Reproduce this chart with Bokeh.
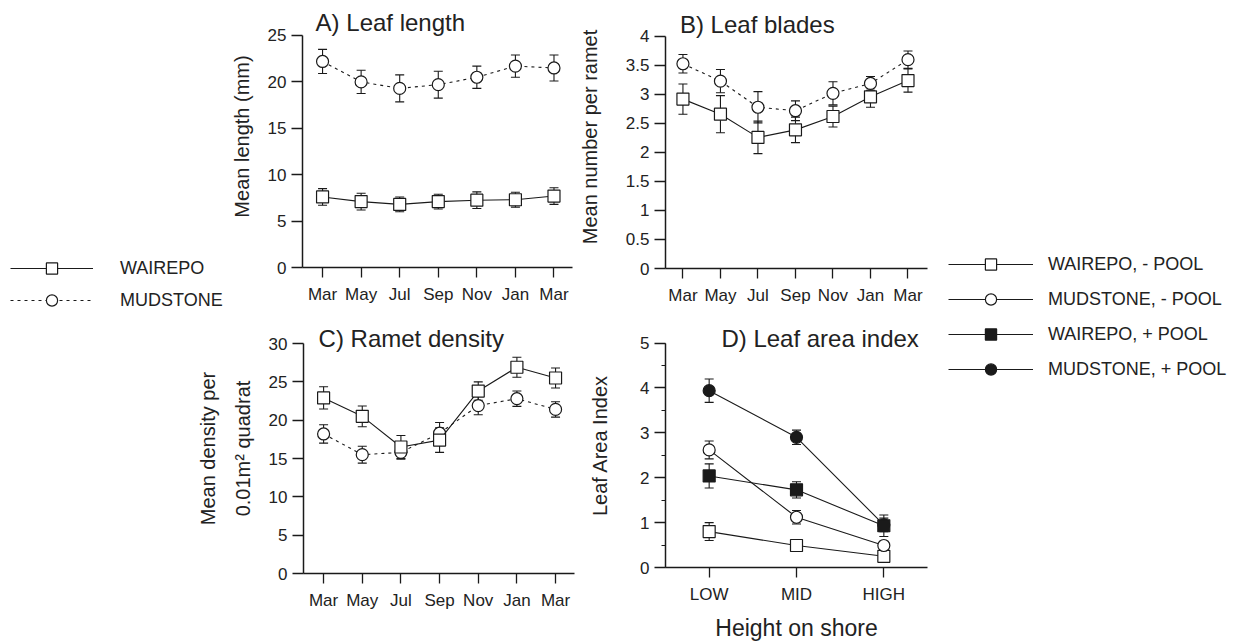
from bokeh.plotting import figure
from bokeh.layouts import row, column
from bokeh.models import (ColumnDataSource, Range1d, FactorRange, FixedTicker, SingleIntervalTicker,
                          NumeralTickFormatter, Whisker, TeeHead, Label, Legend, LegendItem)
from bokeh.embed import file_html
from bokeh.resources import INLINE

# ---------------- data ----------------
months = ["Mar", "May", "Jul", "Sep", "Nov", "Jan", "Mar"]

length_wairepo = [7.6, 7.1, 6.8, 7.1, 7.25, 7.3, 7.7]
length_wairepo_se = [0.9, 0.9, 0.8, 0.8, 0.9, 0.8, 0.9]
length_mudstone = [22.2, 20.0, 19.3, 19.7, 20.5, 21.7, 21.5]
length_mudstone_se = [1.3, 1.25, 1.45, 1.45, 1.2, 1.2, 1.4]

blades_wairepo = [2.92, 2.66, 2.26, 2.39, 2.62, 2.96, 3.24]
blades_wairepo_se = [0.26, 0.32, 0.28, 0.22, 0.18, 0.18, 0.2]
blades_mudstone = [3.53, 3.23, 2.78, 2.72, 3.02, 3.19, 3.6]
blades_mudstone_se = [0.16, 0.2, 0.27, 0.17, 0.2, 0.12, 0.15]

density_wairepo = [22.9, 20.5, 16.5, 17.4, 23.8, 26.9, 25.5]
density_wairepo_se = [1.45, 1.35, 1.5, 1.6, 1.2, 1.3, 1.3]
density_mudstone = [18.2, 15.5, 15.8, 18.3, 21.9, 22.8, 21.4]
density_mudstone_se = [1.2, 1.1, 0.9, 1.4, 1.2, 1.0, 1.0]

shores = ["LOW", "MID", "HIGH"]
lai_wairepo_nopool = [0.8, 0.49, 0.25]
lai_wairepo_nopool_se = [0.2, 0.05, 0.08]
lai_mudstone_nopool = [2.62, 1.12, 0.49]
lai_mudstone_nopool_se = [0.2, 0.15, 0.06]
lai_wairepo_pool = [2.04, 1.73, 0.93]
lai_wairepo_pool_se = [0.27, 0.18, 0.24]
lai_mudstone_pool = [3.94, 2.9, 0.95]
lai_mudstone_pool_se = [0.26, 0.16, 0.15]

FONT = "Liberation Sans"
INK = "#1a1a1a"
TXT = "#222222"


def make_panel(width, height, left, right, top, bottom, x_range, y_range):
    p = figure(width=width, height=height, x_range=x_range, y_range=y_range,
               output_backend="svg", toolbar_location=None,
               min_border_left=left, min_border_right=right,
               min_border_top=top, min_border_bottom=bottom)
    p.grid.visible = False
    p.outline_line_color = None
    for ax in (p.xaxis[0], p.yaxis[0]):
        ax.axis_line_color = INK
        ax.axis_line_width = 1.5
        ax.major_tick_line_color = INK
        ax.major_tick_line_width = 1.3
        ax.major_tick_in = 0
        ax.minor_tick_in = 0
        ax.minor_tick_out = 0
        ax.major_label_text_font = FONT
        ax.major_label_text_font_size = "17px"
        ax.major_label_text_color = TXT
        ax.axis_label_text_font = FONT
        ax.axis_label_text_font_size = "20px"
        ax.axis_label_text_font_style = "normal"
        ax.axis_label_text_color = TXT
    p.xaxis.major_tick_out = 10
    p.xaxis.major_label_standoff = 7
    p.yaxis.major_tick_out = 11
    p.yaxis.major_label_standoff = 5
    return p


def add_series(p, xs, ys, se, marker, fill, dash):
    src = ColumnDataSource(dict(x=xs, y=ys,
                                upper=[a + b for a, b in zip(ys, se)],
                                lower=[a - b for a, b in zip(ys, se)]))
    w = Whisker(base="x", upper="upper", lower="lower", source=src, level="underlay",
                line_color=INK, line_width=1.1,
                upper_head=TeeHead(size=9, line_color=INK, line_width=1.1),
                lower_head=TeeHead(size=9, line_color=INK, line_width=1.1))
    p.add_layout(w)
    p.line("x", "y", source=src, line_color=INK, line_width=1.1, line_dash=dash)
    p.scatter("x", "y", source=src, marker=marker, size=12, fill_color=fill,
              line_color=INK, line_width=1.2)


def month_axis(p):
    ticks = list(range(len(months)))
    p.xaxis.ticker = FixedTicker(ticks=ticks)
    p.xaxis.major_label_overrides = {i: m for i, m in zip(ticks, months)}


def title(p, x, y, text):
    p.add_layout(Label(x=x, y=y, text=text, text_font=FONT, text_font_size="24px",
                       text_color=TXT, text_align="left", text_baseline="middle"))


idx = list(range(len(months)))

# ---------------- Panel A ----------------
pA = make_panel(350, 320, 77, 3, 5, 53, Range1d(-0.52, 6.48), Range1d(0, 28.23))
month_axis(pA)
pA.yaxis.ticker = SingleIntervalTicker(interval=5, num_minor_ticks=0)
pA.yaxis.bounds = (0, 25)
pA.yaxis.axis_label = "Mean length (mm)"
pA.yaxis.axis_label_standoff = 12
add_series(pA, idx, length_wairepo, length_wairepo_se, "square", "white", "solid")
add_series(pA, idx, length_mudstone, length_mudstone_se, "circle", "white", "3 4")
title(pA, -0.18, 26.4, "A) Leaf length")

# ---------------- Panel B ----------------
pB = make_panel(360, 320, 82, 8, 5, 52, Range1d(-0.465, 6.52), Range1d(0, 4.534))
month_axis(pB)
pB.yaxis.ticker = SingleIntervalTicker(interval=0.5, num_minor_ticks=0)
pB.yaxis.bounds = (0, 4)
pB.yaxis.formatter = NumeralTickFormatter(format="0.[0]")
pB.yaxis.axis_label = "Mean number per ramet"
pB.yaxis.axis_label_standoff = 22
add_series(pB, idx, blades_wairepo, blades_wairepo_se, "square", "white", "solid")
add_series(pB, idx, blades_mudstone, blades_mudstone_se, "circle", "white", "3 4")
title(pB, -0.08, 4.21, "B) Leaf blades")

# ---------------- Panel C ----------------
pC = make_panel(575, 323, 303, 1, 3, 70, Range1d(-0.52, 6.49), Range1d(0, 32.61))
month_axis(pC)
pC.yaxis.ticker = SingleIntervalTicker(interval=5, num_minor_ticks=0)
pC.yaxis.bounds = (0, 30)
pC.yaxis.axis_label = "Mean density per\n0.01m\u00b2 quadrat"
pC.yaxis.axis_label_text_line_height = 1.55
pC.yaxis.axis_label_standoff = 12
add_series(pC, idx, density_mudstone, density_mudstone_se, "circle", "white", "3 4")
add_series(pC, idx, density_wairepo, density_wairepo_se, "square", "white", "solid")
title(pC, -0.13, 30.65, "C) Ramet density")

# ---------------- Panel D ----------------
pD = make_panel(360, 323, 85, 5, 3, 71, FactorRange(factors=shores), Range1d(0, 5.437))
pD.yaxis.ticker = SingleIntervalTicker(interval=1, num_minor_ticks=2)
pD.yaxis.bounds = (0, 5)
pD.yaxis.minor_tick_out = 4
pD.yaxis.minor_tick_line_color = INK
pD.yaxis.axis_label = "Leaf Area Index"
pD.yaxis.axis_label_standoff = 26
pD.xaxis.axis_label = "Height on shore"
pD.xaxis.axis_label_text_font_size = "23px"
pD.xaxis.axis_label_standoff = 8
add_series(pD, shores, lai_wairepo_nopool, lai_wairepo_nopool_se, "square", "white", "solid")
add_series(pD, shores, lai_mudstone_nopool, lai_mudstone_nopool_se, "circle", "white", "solid")
add_series(pD, shores, lai_mudstone_pool, lai_mudstone_pool_se, "circle", INK, "solid")
add_series(pD, shores, lai_wairepo_pool, lai_wairepo_pool_se, "square", INK, "solid")
title(pD, 0.64, 5.11, "D) Leaf area index")


# ---------------- legends ----------------
def legend_fig(width, height, entries, loc, glyph_w, standoff, spacing):
    f = figure(width=width, height=height, x_range=Range1d(0, 1), y_range=Range1d(0, 1),
               output_backend="svg", toolbar_location=None,
               x_axis_location=None, y_axis_location=None,
               min_border=0, min_border_left=0, min_border_right=0,
               min_border_top=0, min_border_bottom=0)
    f.grid.visible = False
    f.outline_line_color = None
    items = []
    for label, marker, fill, dash in entries:
        # off-range sample points: only the legend swatch is visible
        l = f.line(x=[-9, -8], y=[-9, -8], line_color=INK, line_width=1.1, line_dash=dash)
        s = f.scatter(x=[-9], y=[-9], marker=marker, fill_color=fill, line_color=INK,
                      line_width=1.2, size=12)
        items.append(LegendItem(label=label, renderers=[l, s]))
    lg = Legend(items=items, location=loc, glyph_width=glyph_w, glyph_height=28,
                label_height=28, spacing=spacing, padding=0, margin=0,
                label_standoff=standoff, border_line_color=None, background_fill_alpha=0,
                label_text_font=FONT, label_text_font_size="18px", label_text_color=TXT)
    f.add_layout(lg)
    return f


# legend location = bottom-left corner of the legend box, measured from frame bottom.
leg_left = legend_fig(225, 320, [("WAIREPO", "square", "white", "solid"),
                                 ("MUDSTONE", "circle", "white", "3 4")],
                      (10, 320 - (254 + 60)), 83, 27, 4)
leg_right = legend_fig(306, 643, [("WAIREPO, - POOL", "square", "white", "solid"),
                                  ("MUDSTONE, - POOL", "circle", "white", "solid"),
                                  ("WAIREPO, + POOL", "square", INK, "solid"),
                                  ("MUDSTONE, + POOL", "circle", INK, "solid")],
                       (13, 643 - (250 + 133)), 85, 15, 7)

layout = row(column(row(column(leg_left), pA), pC), column(pB, pD), leg_right)

open("out.html", "w").write(file_html(layout, INLINE))
